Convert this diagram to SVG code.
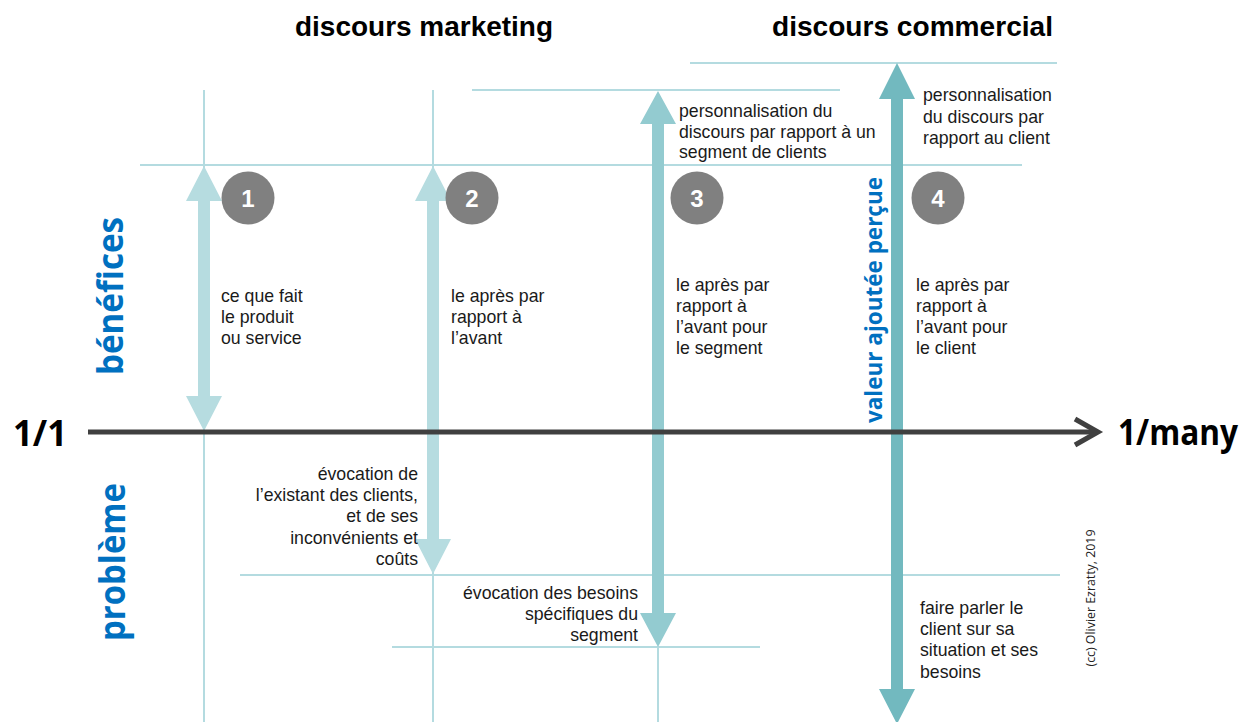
<svg xmlns="http://www.w3.org/2000/svg" width="1249" height="722" viewBox="0 0 1249 722">
<style>
.grid{stroke:#b4dbe0;stroke-width:2;fill:none}
.body{font-family:"Liberation Sans",Arial,sans-serif;font-size:17.7px;fill:#1a1a1a}
.title{font-family:"Liberation Sans",Arial,sans-serif;font-size:27px;font-weight:bold;fill:#000}
.axislbl{font-family:"Open Sans","Liberation Sans",sans-serif;font-size:36px;font-weight:bold;fill:#000}
.blue{font-family:"Open Sans","Liberation Sans",sans-serif;font-weight:bold;fill:#0070c0}
.num{font-family:"Liberation Sans",Arial,sans-serif;font-size:24px;font-weight:bold;fill:#fff;text-anchor:middle}
.badge{fill:#808080}
.a1{fill:#b6dce0}
.a3{fill:#93cbd0}
.a4{fill:#72b9bf}
</style>
<rect width="1249" height="722" fill="#fff"/>
<g id="grid">
<line class="grid" x1="690" y1="63" x2="1057" y2="63"/>
<line class="grid" x1="472" y1="90" x2="840" y2="90"/>
<line class="grid" x1="140" y1="165" x2="1022" y2="165"/>
<line class="grid" x1="240" y1="575" x2="1060" y2="575"/>
<line class="grid" x1="392" y1="647" x2="760" y2="647"/>
<line class="grid" x1="204" y1="90" x2="204" y2="722"/>
<line class="grid" x1="433" y1="90" x2="433" y2="722"/>
<line class="grid" x1="658" y1="647" x2="658" y2="722"/>
</g>
<g id="connectors">
<path id="arrow1" class="a1" d="M204,166 L222,201 L210,201 L210,396 L222,396 L204,431 L186,396 L198,396 L198,201 L186,201 Z"/>
<path id="arrow2" class="a1" d="M433,166 L451,201 L439,201 L439,539 L451,539 L433,574 L415,539 L427,539 L427,201 L415,201 Z"/>
<path id="arrow3" class="a3" d="M658,91 L676,124 L664,124 L664,613 L676,613 L658,647 L640,613 L652,613 L652,124 L640,124 Z"/>
<path id="arrow4" class="a4" d="M897,63 L915,99 L903,99 L903,689 L915,689 L897,724 L879,689 L891,689 L891,99 L879,99 Z"/>
<g id="axis" stroke="#404040" stroke-width="5" fill="none">
<line x1="88" y1="432" x2="1096" y2="432"/>
<polyline points="1075,419 1098,432 1075,445" stroke-linejoin="miter"/>
</g>
</g>
<g id="titles">
<text class="title" x="295" y="36" textLength="258" lengthAdjust="spacingAndGlyphs">discours marketing</text>
<text class="title" x="772" y="36" textLength="281" lengthAdjust="spacingAndGlyphs">discours commercial</text>
</g>
<g id="axis-labels">
<text class="axislbl" x="13" y="446" textLength="54" lengthAdjust="spacingAndGlyphs">1/1</text>
<text class="axislbl" x="1118" y="445" font-size="33" textLength="120" lengthAdjust="spacingAndGlyphs">1/many</text>
</g>
<g id="side-labels">
<text class="blue" font-size="35" text-anchor="middle" transform="translate(123,296) rotate(-90)" textLength="158" lengthAdjust="spacingAndGlyphs">bénéfices</text>
<text class="blue" font-size="35" text-anchor="middle" transform="translate(125,562) rotate(-90)" textLength="158" lengthAdjust="spacingAndGlyphs">problème</text>
<text class="blue" font-size="23" text-anchor="middle" transform="translate(882,300) rotate(-90)" textLength="246" lengthAdjust="spacingAndGlyphs">valeur ajoutée perçue</text>
</g>
<g id="badge1"><circle class="badge" cx="248" cy="198" r="26.5"/><text class="num" x="248" y="207">1</text></g>
<g id="badge2"><circle class="badge" cx="472" cy="198" r="26.5"/><text class="num" x="472" y="207">2</text></g>
<g id="badge3"><circle class="badge" cx="697" cy="198" r="26.5"/><text class="num" x="697" y="207">3</text></g>
<g id="badge4"><circle class="badge" cx="938" cy="198" r="26.5"/><text class="num" x="938" y="207">4</text></g>
<g id="col1-benefit"><text class="body" x="221" y="302"><tspan x="221">ce que fait</tspan><tspan x="221" dy="21">le produit</tspan><tspan x="221" dy="21">ou service</tspan></text></g>
<g id="col2-benefit"><text class="body" x="451" y="302"><tspan x="451">le après par</tspan><tspan x="451" dy="21">rapport à</tspan><tspan x="451" dy="21">l’avant</tspan></text></g>
<g id="col3-top"><text class="body" x="679" y="117"><tspan x="679">personnalisation du</tspan><tspan x="679" dy="20.7">discours par rapport à un</tspan><tspan x="679" dy="20.7">segment de clients</tspan></text></g>
<g id="col4-top"><text class="body" x="923" y="101"><tspan x="923">personnalisation</tspan><tspan x="923" dy="21.5">du discours par</tspan><tspan x="923" dy="21.5">rapport au client</tspan></text></g>
<g id="col3-benefit"><text class="body" x="676" y="291"><tspan x="676">le après par</tspan><tspan x="676" dy="21">rapport à</tspan><tspan x="676" dy="21">l’avant pour</tspan><tspan x="676" dy="21">le segment</tspan></text></g>
<g id="col4-benefit"><text class="body" x="916" y="291"><tspan x="916">le après par</tspan><tspan x="916" dy="21">rapport à</tspan><tspan x="916" dy="21">l’avant pour</tspan><tspan x="916" dy="21">le client</tspan></text></g>
<g id="col2-problem"><text class="body" text-anchor="end" x="418" y="480"><tspan x="418">évocation de</tspan><tspan x="418" dy="21.2">l’existant des clients,</tspan><tspan x="418" dy="21.2">et de ses</tspan><tspan x="418" dy="21.2">inconvénients et</tspan><tspan x="418" dy="21.2">coûts</tspan></text></g>
<g id="col3-problem"><text class="body" text-anchor="end" x="638" y="599"><tspan x="638">évocation des besoins</tspan><tspan x="638" dy="21.2">spécifiques du</tspan><tspan x="638" dy="21.2">segment</tspan></text></g>
<g id="col4-problem"><text class="body" x="920" y="614"><tspan x="920">faire parler le</tspan><tspan x="920" dy="21.2">client sur sa</tspan><tspan x="920" dy="21.2">situation et ses</tspan><tspan x="920" dy="21.2">besoins</tspan></text></g>
<g id="copyright"><text font-family="'Open Sans','Liberation Sans',sans-serif" font-size="12" fill="#222" text-anchor="middle" transform="translate(1095,598) rotate(-90)" textLength="137" lengthAdjust="spacingAndGlyphs">(cc) Olivier Ezratty, 2019</text></g>
</svg>
